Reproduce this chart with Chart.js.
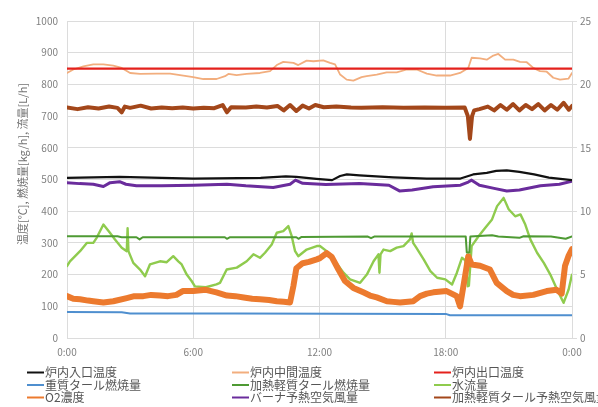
<!DOCTYPE html>
<html>
<head>
<meta charset="utf-8">
<script src="https://cdn.jsdelivr.net/npm/chart.js@4"></script>
<style>
  html, body { margin: 0; padding: 0; background: #fff; }
  canvas { display: block; }
</style>
</head>
<body>
<canvas id="c" width="598" height="407"></canvas>
<script>
// Series names in legend order (row by row, three per row)
const seriesNames = [
  '炉内入口温度', '炉内中間温度', '炉内出口温度',
  '重質タール燃焼量', '加熱軽質タール燃焼量', '水流量',
  'O2濃度', 'バーナ予熱空気風量', '加熱軽質タール予熱空気風量'
];

// Time axis (hours since 0:00)
const hourTicks = [0, 6, 12, 18, 24];
const tickLabels = ['0:00', '6:00', '12:00', '18:00', '0:00'];
const leftAxisTitle = '温度[℃], 燃焼量[kg/h], 流量[L/h]';

// Each series: [hour, value]
const inletTemp = [
  [0, 505], [2.5, 508], [6, 503], [9.2, 505], [10.4, 510], [10.9, 508], [11.85, 502],
  [12.6, 498], [12.98, 511], [13.3, 516], [13.9, 513], [15.5, 507], [17.1, 503],
  [18.7, 503], [19.3, 516], [19.95, 521], [20.4, 527], [20.9, 529], [21.5, 524],
  [22.2, 516], [22.9, 506], [24, 498]
];
const midTemp = [
  [0, 836], [0.3, 847], [0.78, 857], [1.25, 863], [1.73, 863], [2.2, 859], [2.6, 852],
  [3.0, 836], [3.47, 833], [4.26, 834], [4.9, 834], [5.37, 829], [6.0, 823], [6.48, 817],
  [7.11, 817], [7.51, 826], [7.67, 833], [8.06, 829], [8.54, 833], [9.17, 836], [9.65, 842],
  [9.97, 861], [10.28, 871], [10.76, 868], [10.99, 861], [11.39, 875], [11.71, 873],
  [12.18, 876], [12.5, 868], [12.74, 863], [12.98, 831], [13.29, 815], [13.61, 812],
  [14.0, 823], [14.24, 826], [14.72, 831], [15.19, 838], [15.67, 838], [16.15, 847],
  [16.62, 847], [17.1, 834], [17.57, 828], [18.2, 828], [18.68, 836], [19.07, 852],
  [19.23, 884], [19.63, 882], [19.95, 878], [20.26, 891], [20.5, 896], [20.82, 878],
  [21.21, 878], [21.53, 871], [21.85, 870], [22.16, 852], [22.48, 842], [22.8, 840],
  [23.11, 821], [23.43, 815], [23.83, 818], [24, 836]
];
const outletTemp = [[0, 850], [24, 850]];
const heavyTarFuel = [[0, 82], [2.6, 81], [3.0, 77], [8, 77], [18, 76], [18.2, 72], [24, 72]];
const lightTarFuel = [
  [0, 321], [2.4, 321], [2.6, 318], [3.3, 318], [3.45, 311], [3.6, 318], [7.5, 318],
  [7.6, 313], [7.75, 318], [10.9, 318], [11.0, 313], [11.15, 319], [14.3, 320],
  [14.45, 315], [14.6, 320], [18.95, 320], [19.0, 270], [19.12, 270], [19.17, 320],
  [20.2, 324], [20.5, 320], [21.5, 316], [21.7, 321], [23.0, 320], [23.7, 313], [24, 320]
];
const waterFlow = [
  [0, 227], [0.14, 242], [0.62, 274], [0.94, 300], [1.25, 300], [1.41, 316], [1.73, 358],
  [2.04, 332], [2.28, 311], [2.6, 285], [2.84, 274], [2.88, 346], [2.92, 274], [3.15, 237],
  [3.47, 216], [3.71, 195], [3.94, 232], [4.42, 242], [4.74, 239], [5.05, 258], [5.29, 242],
  [5.45, 232], [5.69, 200], [5.93, 179], [6.08, 163], [6.6, 160], [7.1, 169], [7.27, 174],
  [7.59, 216], [8.07, 222], [8.54, 242], [8.86, 264], [9.17, 253], [9.41, 269], [9.73, 295],
  [9.97, 332], [10.28, 337], [10.52, 353], [10.68, 321], [10.84, 274], [10.99, 258],
  [11.39, 279], [11.87, 290], [12.02, 290], [12.34, 274], [12.74, 242], [13.14, 206],
  [13.45, 185], [13.93, 174], [14.25, 200], [14.57, 242], [14.8, 264], [14.85, 206],
  [14.9, 264], [15.04, 279], [15.36, 274], [15.67, 285], [15.99, 290], [16.3, 311],
  [16.38, 330], [16.45, 300], [16.6, 285], [16.95, 248], [17.27, 211], [17.59, 190],
  [17.98, 185], [18.3, 169], [18.53, 206], [18.77, 253], [18.93, 245], [19.05, 163],
  [19.1, 165], [19.23, 290], [19.56, 321], [19.88, 348], [20.2, 374], [20.44, 416],
  [20.75, 442], [20.99, 406], [21.3, 384], [21.55, 390], [21.78, 358], [22.02, 311],
  [22.34, 269], [22.66, 237], [22.97, 200], [23.29, 153], [23.6, 111], [23.84, 153], [24, 200]
];
// O2 concentration, right axis (%)
const o2Conc = [
  [0, 3.3], [0.3, 3.1], [0.62, 3.05], [1.0, 2.95], [1.25, 2.9], [1.73, 2.8], [2.2, 2.9],
  [2.84, 3.15], [3.2, 3.3], [3.63, 3.3], [4.0, 3.4], [4.42, 3.35], [4.8, 3.3], [5.2, 3.4],
  [5.5, 3.7], [6.0, 3.7], [6.6, 3.8], [7.1, 3.6], [7.6, 3.35], [8.0, 3.3], [8.4, 3.2],
  [8.8, 3.1], [9.17, 3.05], [9.6, 3.0], [9.97, 2.9], [10.3, 2.85], [10.6, 2.8],
  [10.76, 4.1], [10.9, 5.5], [11.2, 5.9], [11.5, 6.0], [11.87, 6.2], [12.02, 6.3],
  [12.34, 6.7], [12.58, 6.4], [12.9, 5.4], [13.21, 4.5], [13.61, 3.95], [14.08, 3.6],
  [14.4, 3.35], [14.72, 3.2], [15.2, 2.9], [15.5, 2.85], [15.83, 2.8], [16.46, 2.9],
  [16.78, 3.3], [17.1, 3.5], [17.41, 3.6], [18.04, 3.7], [18.52, 3.3], [18.68, 2.5],
  [18.92, 4.9], [19.07, 6.45], [19.23, 5.8], [19.63, 5.7], [20.1, 5.4], [20.42, 4.35],
  [20.9, 3.7], [21.2, 3.4], [21.53, 3.3], [22.16, 3.4], [22.8, 3.7], [23.27, 3.8],
  [23.51, 3.5], [23.67, 5.7], [23.83, 6.45], [24, 7.0]
];
const burnerAir = [
  [0, 490], [0.6, 487], [1.25, 485], [1.73, 478], [2.05, 490], [2.5, 493], [2.8, 485],
  [3.3, 480], [4.5, 480], [6.0, 482], [7.6, 485], [8.5, 480], [9.8, 475], [10.6, 485],
  [10.86, 498], [11.2, 488], [12.3, 484], [13.9, 487], [15.3, 482], [15.8, 464],
  [16.4, 467], [17.4, 477], [18.7, 482], [19.07, 492], [19.23, 498], [19.6, 482],
  [20.3, 472], [20.9, 464], [21.5, 467], [22.5, 480], [23.4, 485], [24, 495]
];
const lightTarAir = [
  [0, 727], [0.5, 722], [1.0, 728], [1.5, 724], [2.0, 730], [2.4, 726], [2.6, 712],
  [2.75, 730], [3.0, 726], [3.5, 733], [4.0, 724], [4.5, 727], [5.0, 725], [5.5, 727],
  [6.0, 724], [6.5, 726], [7.0, 725], [7.4, 735], [7.6, 712], [7.8, 728], [8.5, 727],
  [9.0, 730], [9.5, 727], [10.0, 732], [10.3, 718], [10.6, 735], [10.9, 716], [11.2, 733],
  [11.5, 724], [11.8, 735], [12.2, 728], [12.8, 730], [13.5, 727], [14, 726], [15, 728],
  [16, 726], [17, 727], [18, 726], [18.9, 727], [19.05, 700], [19.15, 628], [19.25, 700],
  [19.35, 718], [19.6, 722], [20.0, 730], [20.3, 718], [20.6, 735], [20.9, 720], [21.2, 738],
  [21.5, 718], [21.8, 735], [22.1, 722], [22.4, 738], [22.7, 718], [23.0, 735], [23.3, 720],
  [23.6, 742], [23.85, 720], [24, 732]
];

const FONT = "'Noto Sans CJK JP', 'Noto Sans', sans-serif";
const toPts = arr => arr.map(([x, y]) => ({ x, y }));

function line(label, data, color, width, order, axis) {
  return {
    label, data: toPts(data), borderColor: color, backgroundColor: color,
    borderWidth: width, borderJoinStyle: 'round', borderCapStyle: 'round',
    pointRadius: 0, tension: 0, order, yAxisID: axis || 'y', fill: false
  };
}

const datasets = [
  line(seriesNames[0], inletTemp, '#111111', 2.2, 2),
  line(seriesNames[1], midTemp, '#F2AE7E', 1.8, 3),
  line(seriesNames[2], outletTemp, '#E4211C', 2.2, 1),
  line(seriesNames[3], heavyTarFuel, '#4F8FCF', 2, 4),
  line(seriesNames[4], lightTarFuel, '#4E9A33', 2, 5),
  line(seriesNames[5], waterFlow, '#8FCB4E', 2.4, 7),
  line(seriesNames[6], o2Conc, '#EC7A2E', 6, 6, 'y1'),
  line(seriesNames[7], burnerAir, '#6A2C9C', 3, 8),
  line(seriesNames[8], lightTarAir, '#A3471A', 4, 9)
];

// Axis title and three-column legend drawn beneath the plot
const extras = {
  id: 'extras',
  afterDraw(chart) {
    const ctx = chart.ctx;
    ctx.save();
    // left axis title
    ctx.translate(22.5, 164);
    ctx.rotate(-Math.PI / 2);
    ctx.fillStyle = '#737373';
    ctx.font = '11px ' + FONT;
    ctx.textAlign = 'center';
    ctx.textBaseline = 'middle';
    ctx.fillText(leftAxisTitle, 0, 0);
    ctx.restore();

    ctx.save();
    const cols = [27, 232, 434];
    const rows = [372.5, 385, 397.5];
    ctx.font = '12px ' + FONT;
    ctx.textBaseline = 'middle';
    ctx.textAlign = 'left';
    chart.data.datasets.forEach((ds, i) => {
      const x = cols[i % 3], y = rows[Math.floor(i / 3)];
      ctx.strokeStyle = ds.borderColor;
      ctx.lineWidth = 2;
      ctx.beginPath();
      ctx.moveTo(x, y);
      ctx.lineTo(x + 17, y);
      ctx.stroke();
      ctx.fillStyle = '#555555';
      ctx.fillText(ds.label, x + 18, y);
    });
    ctx.restore();
  }
};

const gridColor = '#dcdcdc';
const tickColor = '#808080';

new Chart(document.getElementById('c'), {
  type: 'line',
  data: { datasets },
  plugins: [extras],
  options: {
    responsive: false,
    animation: false,
    devicePixelRatio: 1,
    layout: { padding: { top: 21, left: 0, right: 0, bottom: 0 } },
    plugins: { legend: { display: false }, tooltip: { enabled: false } },
    scales: {
      x: {
        type: 'linear', min: 0, max: 24,
        afterFit(s) { s.height = 69; },
        afterBuildTicks(s) { s.ticks = hourTicks.map(v => ({ value: v })); },
        ticks: {
          color: tickColor, font: { size: 10, family: FONT }, padding: 8,
          maxRotation: 0, autoSkip: false,
          callback: v => tickLabels[hourTicks.indexOf(v)] ?? ''
        },
        grid: { color: gridColor, drawTicks: false },
        border: { color: gridColor }
      },
      y: {
        position: 'left', min: 0, max: 1000,
        afterFit(s) { s.width = 67; },
        ticks: {
          stepSize: 100, color: tickColor, font: { size: 10, family: FONT }, padding: 9,
          callback: v => String(v)
        },
        grid: { color: gridColor, drawTicks: false },
        border: { display: false }
      },
      y1: {
        position: 'right', min: 0, max: 25,
        afterFit(s) { s.width = 26; },
        ticks: {
          stepSize: 5, color: tickColor, font: { size: 10, family: FONT }, padding: 3,
          callback: v => String(v)
        },
        grid: { drawOnChartArea: false, color: gridColor, tickLength: 5 },
        border: { color: gridColor }
      }
    }
  }
});
</script>
</body>
</html>
